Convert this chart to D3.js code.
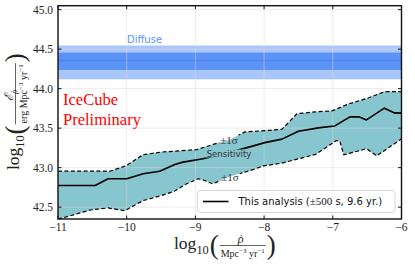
<!DOCTYPE html>
<html><head><meta charset="utf-8">
<script src="https://cdn.jsdelivr.net/npm/d3@7"></script>
<style>body{margin:0;background:#fff} svg{display:block}</style>
</head><body><div id="chart"></div>
<script>
// values
const xTicks = [-11, -10, -9, -8, -7, -6]
const yTicks = [42.5, 43.0, 43.5, 44.0, 44.5, 45.0]

const upperX = [-11.0, -10.24, -10.0, -9.76, -9.5, -8.98, -8.74, -8.52, -8.28, -7.91, -7.74, -7.52, -7.26, -7.01, -6.77, -6.5, -6.24, -6.0]
const upperY = [42.955, 42.955, 43.028, 43.164, 43.197, 43.228, 43.295, 43.346, 43.452, 43.473, 43.486, 43.683, 43.706, 43.719, 43.807, 43.877, 43.963, 43.961]

const medianX = [-11.0, -10.46, -10.27, -10.0, -9.76, -9.52, -9.3, -9.18, -8.89, -8.51, -8.13, -7.99, -7.74, -7.5, -7.21, -6.97, -6.75, -6.62, -6.51, -6.25, -6.1, -6.0]
const medianY = [42.774, 42.774, 42.859, 42.859, 42.922, 42.955, 43.041, 43.07, 43.113, 43.19, 43.282, 43.317, 43.361, 43.461, 43.503, 43.528, 43.643, 43.645, 43.604, 43.753, 43.693, 43.69]

const lowerX = [-11.0, -10.53, -10.27, -10.03, -9.76, -9.5, -9.3, -9.15, -8.96, -8.88, -8.75, -8.5, -8.2, -8.01, -7.75, -7.25, -6.95, -6.9, -6.84, -6.51, -6.36, -6.0]
const lowerY = [42.347, 42.464, 42.49, 42.455, 42.583, 42.646, 42.704, 42.786, 42.859, 42.843, 42.795, 42.888, 42.964, 43.022, 43.056, 43.168, 43.342, 43.34, 43.162, 43.24, 43.149, 43.365]

const diffuseCenter = 44.355
const diffuse1sig = [44.237, 44.457]
const diffuse2sig = [44.118, 44.546]

const W = 415, H = 266
const m = {top: 5.7, right: 13.5, bottom: 47, left: 58}
const serif = "'Liberation Serif', 'DejaVu Serif', serif"
const sans = "'DejaVu Sans', sans-serif"

const svg = d3.select("#chart").append("svg").attr("width", W).attr("height", H)
const x = d3.scaleLinear().domain([-11, -6]).range([m.left, W - m.right])
const y = d3.scaleLinear().domain([42.35, 45.05]).range([H - m.bottom, m.top])

const defs = svg.append("defs")
defs.append("clipPath").attr("id", "plot").append("rect")
  .attr("x", m.left).attr("y", m.top).attr("width", W - m.left - m.right).attr("height", H - m.top - m.bottom)
const mask = defs.append("mask").attr("id", "lblmask").attr("maskUnits", "userSpaceOnUse")
  .attr("x", 0).attr("y", 0).attr("width", W).attr("height", H)
mask.append("rect").attr("width", W).attr("height", H).attr("fill", "white")

const plot = svg.append("g").attr("clip-path", "url(#plot)")

// sensitivity band
const toPts = (xs, ys) => xs.map((v, i) => [v, ys[i]])
const line = d3.line().x(d => x(d[0])).y(d => y(d[1]))
const band = toPts(upperX, upperY).concat(toPts(lowerX, lowerY).reverse())
plot.append("path").attr("d", line(band) + "Z").attr("fill", "#87c5cf")

// diffuse bands
plot.append("rect").attr("x", x(-11)).attr("width", x(-6) - x(-11))
  .attr("y", y(diffuse2sig[1])).attr("height", y(diffuse2sig[0]) - y(diffuse2sig[1])).attr("fill", "#a9c6fa")
plot.append("rect").attr("x", x(-11)).attr("width", x(-6) - x(-11))
  .attr("y", y(diffuse1sig[1])).attr("height", y(diffuse1sig[0]) - y(diffuse1sig[1])).attr("fill", "#5d93f6")
plot.append("line").attr("x1", x(-11)).attr("x2", x(-6)).attr("y1", y(diffuseCenter)).attr("y2", y(diffuseCenter))
  .attr("stroke", "#4a85f0").attr("stroke-width", 1.5)

// grid
xTicks.forEach(t => plot.append("line").attr("x1", x(t)).attr("x2", x(t)).attr("y1", m.top).attr("y2", H - m.bottom)
  .attr("stroke", "#d8d8d8").attr("stroke-opacity", 0.55).attr("stroke-width", 0.9))
yTicks.forEach(t => plot.append("line").attr("y1", y(t)).attr("y2", y(t)).attr("x1", m.left).attr("x2", W - m.right)
  .attr("stroke", "#d8d8d8").attr("stroke-opacity", 0.55).attr("stroke-width", 0.9))

// curves
const curves = plot.append("g").attr("mask", "url(#lblmask)")
curves.append("path").attr("d", line(toPts(upperX, upperY))).attr("fill", "none")
  .attr("stroke", "#000").attr("stroke-width", 1.2).attr("stroke-dasharray", "4,2.4")
curves.append("path").attr("d", line(toPts(lowerX, lowerY))).attr("fill", "none")
  .attr("stroke", "#000").attr("stroke-width", 1.2).attr("stroke-dasharray", "4,2.4")
curves.append("path").attr("d", line(toPts(medianX, medianY))).attr("fill", "none")
  .attr("stroke", "#000").attr("stroke-width", 1.6).attr("stroke-linejoin", "round")

// inline labels, the lines are hidden behind them
function inlineLabel(txt, cx, cy, font, size) {
  const t = svg.append("text").attr("x", cx).attr("y", cy).attr("text-anchor", "middle")
    .attr("dominant-baseline", "central").attr("font-family", font).attr("font-size", size)
    .attr("fill", "#333").text(txt)
  const b = t.node().getBBox()
  mask.append("rect").attr("x", b.x - 1).attr("y", b.y + 1).attr("width", b.width + 2).attr("height", b.height - 2).attr("fill", "black")
}
inlineLabel("Sensitivity", 229, 153.5, sans, 8.6)
inlineLabel("±1σ", 229, 139.5, serif, 11)
inlineLabel("±1σ", 230, 176.5, serif, 11)

svg.append("text").attr("x", 127).attr("y", 43).attr("font-family", sans).attr("font-size", 10)
  .attr("fill", "#5f95f5").text("Diffuse")

svg.append("text").attr("x", 63).attr("y", 105).attr("font-family", serif).attr("font-size", 16.5)
  .attr("fill", "#ff0000").text("IceCube")
svg.append("text").attr("x", 63).attr("y", 125).attr("font-family", serif).attr("font-size", 16.5)
  .attr("fill", "#ff0000").text("Preliminary")

// legend
const lg = svg.append("g")
lg.append("rect").attr("x", 197.5).attr("y", 190.5).attr("width", 197.5).attr("height", 22).attr("rx", 3)
  .attr("fill", "#fff").attr("fill-opacity", 0.8).attr("stroke", "#cccccc").attr("stroke-width", 0.8)
lg.append("line").attr("x1", 203).attr("x2", 228.5).attr("y1", 201.5).attr("y2", 201.5).attr("stroke", "#000").attr("stroke-width", 1.6)
const lt = lg.append("text").attr("x", 238.5).attr("y", 205.3).attr("font-family", sans).attr("font-size", 10).attr("fill", "#111")
lt.append("tspan").text("This analysis (")
lt.append("tspan").attr("font-family", serif).attr("font-size", 11).text("±500")
lt.append("tspan").text(" s, 9.6 yr.)")

// ticks, inward on all four sides
const tk = svg.append("g").attr("stroke", "#000").attr("stroke-width", 0.9)
xTicks.forEach(t => {
  tk.append("line").attr("x1", x(t)).attr("x2", x(t)).attr("y1", H - m.bottom).attr("y2", H - m.bottom - 3.5)
  tk.append("line").attr("x1", x(t)).attr("x2", x(t)).attr("y1", m.top).attr("y2", m.top + 3.5)
})
yTicks.forEach(t => {
  tk.append("line").attr("y1", y(t)).attr("y2", y(t)).attr("x1", m.left).attr("x2", m.left + 3.5)
  tk.append("line").attr("y1", y(t)).attr("y2", y(t)).attr("x1", W - m.right).attr("x2", W - m.right - 3.5)
})
svg.append("g").selectAll("text").data(xTicks).join("text")
  .attr("x", d => x(d)).attr("y", 231).attr("text-anchor", "middle")
  .attr("font-family", serif).attr("font-size", 11.5).attr("fill", "#222")
  .text(d => "−" + Math.abs(d))
svg.append("g").selectAll("text").data(yTicks).join("text")
  .attr("x", m.left - 5).attr("y", d => y(d)).attr("dy", "0.35em").attr("text-anchor", "end")
  .attr("font-family", serif).attr("font-size", 11.5).attr("fill", "#222")
  .text(d => d.toFixed(1))

svg.append("rect").attr("x", m.left).attr("y", m.top).attr("width", W - m.left - m.right).attr("height", H - m.top - m.bottom)
  .attr("fill", "none").attr("stroke", "#111").attr("stroke-width", 1.4)

// axis labels written as math
function richText(g, parts, base) {
  const t = g.append("text").attr("font-family", serif).attr("font-size", base).attr("fill", "#222")
  let shift = 0, pendingDx = 0
  parts.forEach(p => {
    const target = p.sup ? -0.42 * base : p.sub ? 0.3 * base : 0
    const fs = (p.sup || p.sub) ? base * 0.7 : base
    t.append("tspan").attr("dy", target - shift).attr("dx", pendingDx || null).attr("font-size", fs)
      .attr("font-family", p.font || null).attr("font-style", p.it ? "italic" : null).text(p.t)
    pendingDx = 0
    if (p.dot) {
      // dot accent over the previous glyph
      t.append("tspan").attr("dx", -0.36 * fs).attr("font-size", fs).text("˙")
      pendingDx = 0.05 * fs
    }
    shift = target
  })
  return t
}
function mathLabel(g, num, den) {
  const lead = richText(g, [{t: "log"}, {t: "10", sub: true}], 17.5)
  let cx = lead.node().getComputedTextLength() + 1
  const lp = g.append("text").attr("x", cx).attr("y", 4.5).attr("font-family", serif).attr("font-size", 27)
    .attr("fill", "#222").text("(")
  cx += lp.node().getComputedTextLength() + 1
  const n = richText(g, num, 12).attr("y", -6)
  const d = richText(g, den, 10).attr("y", 7.8)
  const wn = n.node().getComputedTextLength(), wd = d.node().getComputedTextLength()
  const fw = Math.max(wn, wd) + 2
  n.attr("x", cx + (fw - wn) / 2)
  d.attr("x", cx + (fw - wd) / 2)
  g.append("line").attr("x1", cx).attr("x2", cx + fw).attr("y1", -3.5).attr("y2", -3.5).attr("stroke", "#222").attr("stroke-width", 0.7)
  cx += fw + 1
  g.append("text").attr("x", cx).attr("y", 4.5).attr("font-family", serif).attr("font-size", 27).attr("fill", "#222").text(")")
}
const den = [{t: "Mpc"}, {t: "−3", sup: true}, {t: " yr"}, {t: "−1", sup: true}]
mathLabel(svg.append("g").attr("transform", "translate(174,249)"), [{t: "ρ", it: true, dot: true}], den)
mathLabel(svg.append("g").attr("transform", "translate(19,170) rotate(-90)"),
  [{t: "ℰ", it: true, font: "'DejaVu Serif', serif"}, {t: "ρ", it: true, sub: true, dot: true}], [{t: "erg "}].concat(den))
</script>
</body></html>
